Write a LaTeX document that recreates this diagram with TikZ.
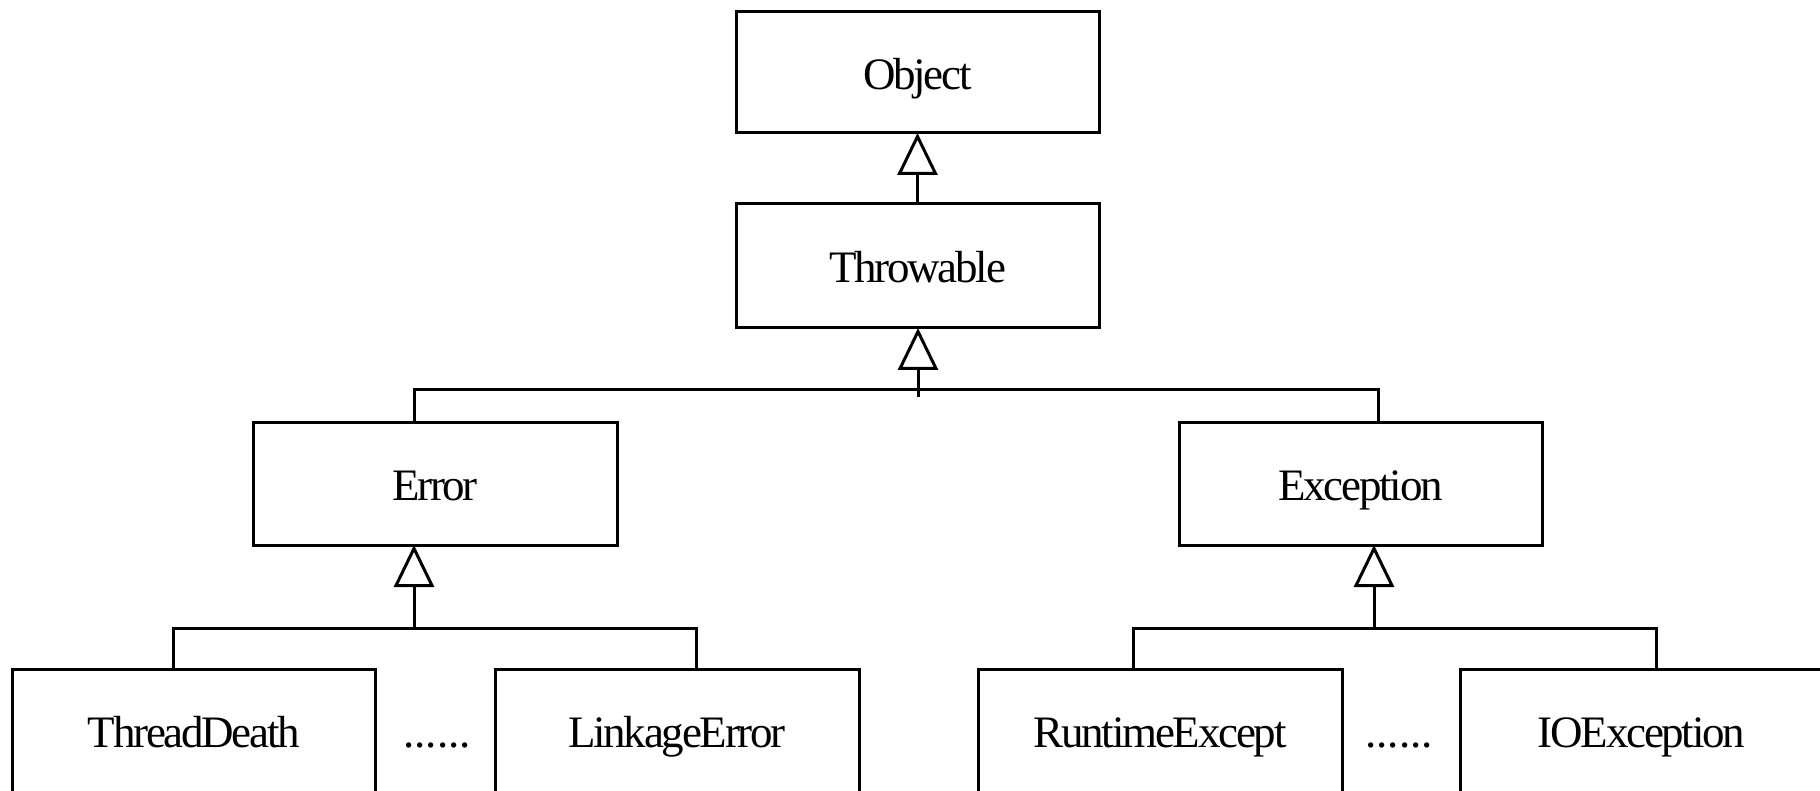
\documentclass[tikz,border=0pt]{standalone}
\usepackage{fontspec}
\setmainfont{Liberation Serif}[LetterSpace=-5]
\newfontfamily\plainserif{Liberation Serif}
\usetikzlibrary{arrows.meta}
\begin{document}
\begin{tikzpicture}[x=1pt,y=-1pt,
  line width=3pt,
  cls/.style={draw=black, fill=white, rectangle, inner sep=0pt, outer sep=0pt,
    text height=34pt, text depth=0pt, font=\fontsize{45}{54}\selectfont},
  dots/.style={inner sep=0pt, outer sep=0pt, text height=34pt, text depth=0pt,
    font=\plainserif\fontsize{45}{54}\selectfont},
  inh/.style={-{Triangle[open,length=42pt,width=40pt,line width=3pt]}},
  bar/.style={line join=miter}]
\useasboundingbox[fill=white] (0,0) rectangle (1820,791);
\clip (0,0) rectangle (1820,791);
% nodes
\node[cls, minimum width=363pt, minimum height=121pt] (obj) at (917.5,72.5) {Object};
\node[cls, minimum width=363pt, minimum height=124pt] (thr) at (917.5,266) {Throwable};
\node[cls, minimum width=364pt, minimum height=123pt] (err) at (435,483.5) {Error};
\node[cls, minimum width=363pt, minimum height=123pt] (exc) at (1360.5,483.5) {Exception};
\node[cls, minimum width=363pt, minimum height=123pt] (td) at (194,730.5) {ThreadDeath};
\node[cls, minimum width=364pt, minimum height=123pt] (le) at (677,730.5) {LinkageError};
\node[cls, minimum width=364pt, minimum height=123pt] (rt) at (1160,730.5) {RuntimeExcept};
\node[cls, minimum width=363pt, minimum height=123pt] (io) at (1641.5,730.5) {IOException};
\node[dots] (d1) at (437,730) {......};
\node[dots] (d2) at (1399,730) {......};
% coordinates
\coordinate (tS) at (918,397);
\coordinate (tL) at (414,389);
\coordinate (tR) at (1378,389);
\coordinate (eM) at (414,628);
\coordinate (eL) at (173,628);
\coordinate (eR) at (696,628);
\coordinate (xM) at (1374,628);
\coordinate (xL) at (1133,628);
\coordinate (xR) at (1656,628);
% connectors
\draw[inh] (thr.north) -- (obj.south);
\draw[inh] (tS) -- (tS |- thr.south);
\draw[bar] (tL |- err.north) -- (tL) -- (tR) -- (tR |- exc.north);
\draw[inh] (eM) -- (eM |- err.south);
\draw[bar] (eL |- td.north) -- (eL) -- (eR) -- (eR |- le.north);
\draw[inh] (xM) -- (xM |- exc.south);
\draw[bar] (xL |- rt.north) -- (xL) -- (xR) -- (xR |- io.north);
\end{tikzpicture}
\end{document}
